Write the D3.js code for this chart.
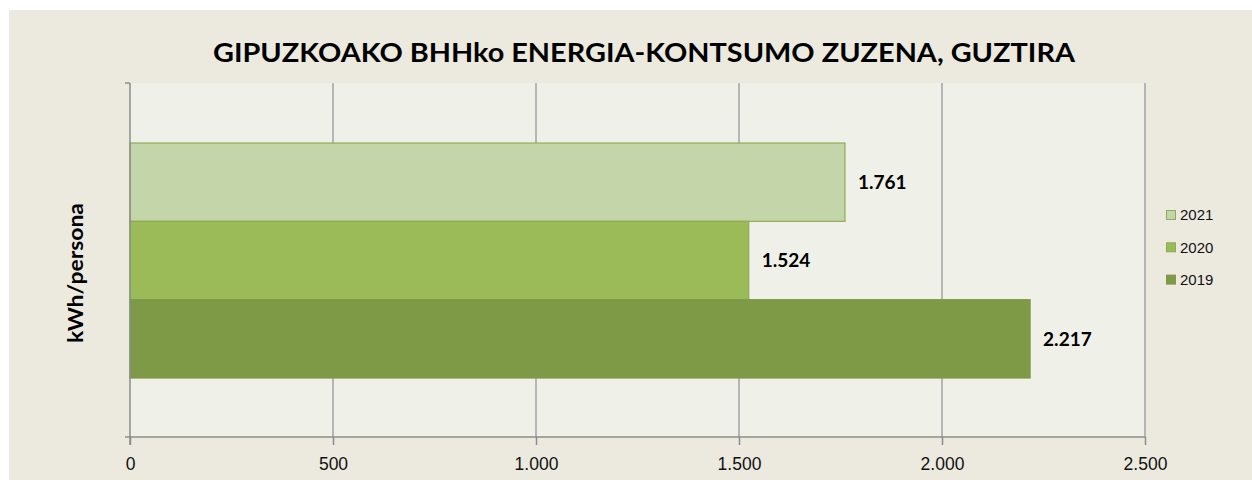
<!DOCTYPE html>
<html><head><meta charset="utf-8">
<script src="https://cdn.jsdelivr.net/npm/d3@7"></script>
<style>html,body{margin:0;padding:0;background:#fff;}svg{display:block;}</style>
</head><body>
<svg id="c" width="1252" height="480"></svg>
<script>
const title = "GIPUZKOAKO BHHko ENERGIA-KONTSUMO ZUZENA, GUZTIRA";
const yTitle = "kWh/persona";
const category = ["Guztira"];
const series = ["2021", "2020", "2019"];
const values = [1761, 1524, 2217];
const valueLabels = ["1.761", "1.524", "2.217"];
const xTicks = [0, 500, 1000, 1500, 2000, 2500];
const xTickLabels = ["0", "500", "1.000", "1.500", "2.000", "2.500"];
const fills = ["#c4d6a9", "#9bbb59", "#7e9a47"];
const strokes = ["#8eac56", "#8eac56", "#7e9a47"];

const svg = d3.select("#c");
const boldFont = "Lato, 'Open Sans', sans-serif";
const tickFont = "'Liberation Sans', Arial, sans-serif";
svg.append("rect").attr("x", 9).attr("y", 10).attr("width", 1243).attr("height", 470).attr("fill", "#eceadf");

const L = 130, R = 1145, T = 83, B = 437;
svg.append("rect").attr("x", L).attr("y", T).attr("width", R - L).attr("height", B - T).attr("fill", "#eff1e9");

const x = d3.scaleLinear().domain([0, 2500]).range([L, R]);
const bandTop = T + 60, bandBot = B - 59;
const yS = d3.scaleBand().domain(series).range([bandTop, bandBot]).padding(0);

// gridlines
svg.append("g").selectAll("line").data(xTicks.slice(1)).join("line")
  .attr("x1", d => x(d)).attr("x2", d => x(d)).attr("y1", T).attr("y2", B)
  .attr("stroke", "#a3a3a3").attr("stroke-width", 1.5);

// bars
series.forEach((s, i) => {
  svg.append("rect")
    .attr("x", x(0)).attr("y", yS(s))
    .attr("width", x(values[i]) - x(0)).attr("height", yS.bandwidth())
    .attr("fill", fills[i]).attr("stroke", strokes[i]).attr("stroke-width", 1.2);
  svg.append("text")
    .attr("x", x(values[i]) + 13).attr("y", yS(s) + yS.bandwidth() / 2)
    .attr("dy", "0.36em")
    .attr("font-family", boldFont).attr("font-weight", "bold").attr("font-size", 19)
    .attr("fill", "#000").text(valueLabels[i]);
});

// axes
const xAxis = d3.axisBottom(x).tickValues(xTicks).tickFormat((d, i) => xTickLabels[i]).tickSize(8).tickPadding(13);
const gx = svg.append("g").attr("transform", `translate(0,${B})`).call(xAxis);
gx.select(".domain").remove();
gx.selectAll(".tick line").attr("stroke", "#8c8c8c").attr("stroke-width", 1.5);
gx.selectAll(".tick text").attr("font-family", tickFont).attr("font-size", 17.5).attr("fill", "#111");
svg.append("line").attr("x1", L - 5).attr("x2", R).attr("y1", B).attr("y2", B).attr("stroke", "#8c8c8c").attr("stroke-width", 1.5);
svg.append("line").attr("x1", L).attr("x2", L).attr("y1", T).attr("y2", B + 8).attr("stroke", "#8c8c8c").attr("stroke-width", 1.5);
svg.append("line").attr("x1", L - 5).attr("x2", L).attr("y1", T).attr("y2", T).attr("stroke", "#8c8c8c").attr("stroke-width", 1.5);

// title
svg.append("text").attr("x", 644).attr("y", 62).attr("text-anchor", "middle")
  .attr("font-family", boldFont).attr("font-weight", "bold").attr("font-size", 27)
  .attr("textLength", 862).attr("lengthAdjust", "spacingAndGlyphs")
  .attr("fill", "#000").text(title);

// y title
svg.append("text").attr("transform", "translate(83,273) rotate(-90)").attr("text-anchor", "middle")
  .attr("font-family", boldFont).attr("font-weight", "bold").attr("font-size", 20)
  .attr("textLength", 140).attr("lengthAdjust", "spacingAndGlyphs")
  .attr("fill", "#000").text(yTitle);

// legend
const lg = svg.append("g");
series.forEach((s, i) => {
  const cy = 215 + i * 32.3;
  lg.append("rect").attr("x", 1166.5).attr("y", cy - 4.5).attr("width", 9).attr("height", 9)
    .attr("fill", fills[i]).attr("stroke", strokes[i]).attr("stroke-width", 1);
  lg.append("text").attr("x", 1180).attr("y", cy).attr("dy", "0.36em")
    .attr("font-family", tickFont).attr("font-size", 15).attr("fill", "#111").text(s);
});
</script>
</body></html>
